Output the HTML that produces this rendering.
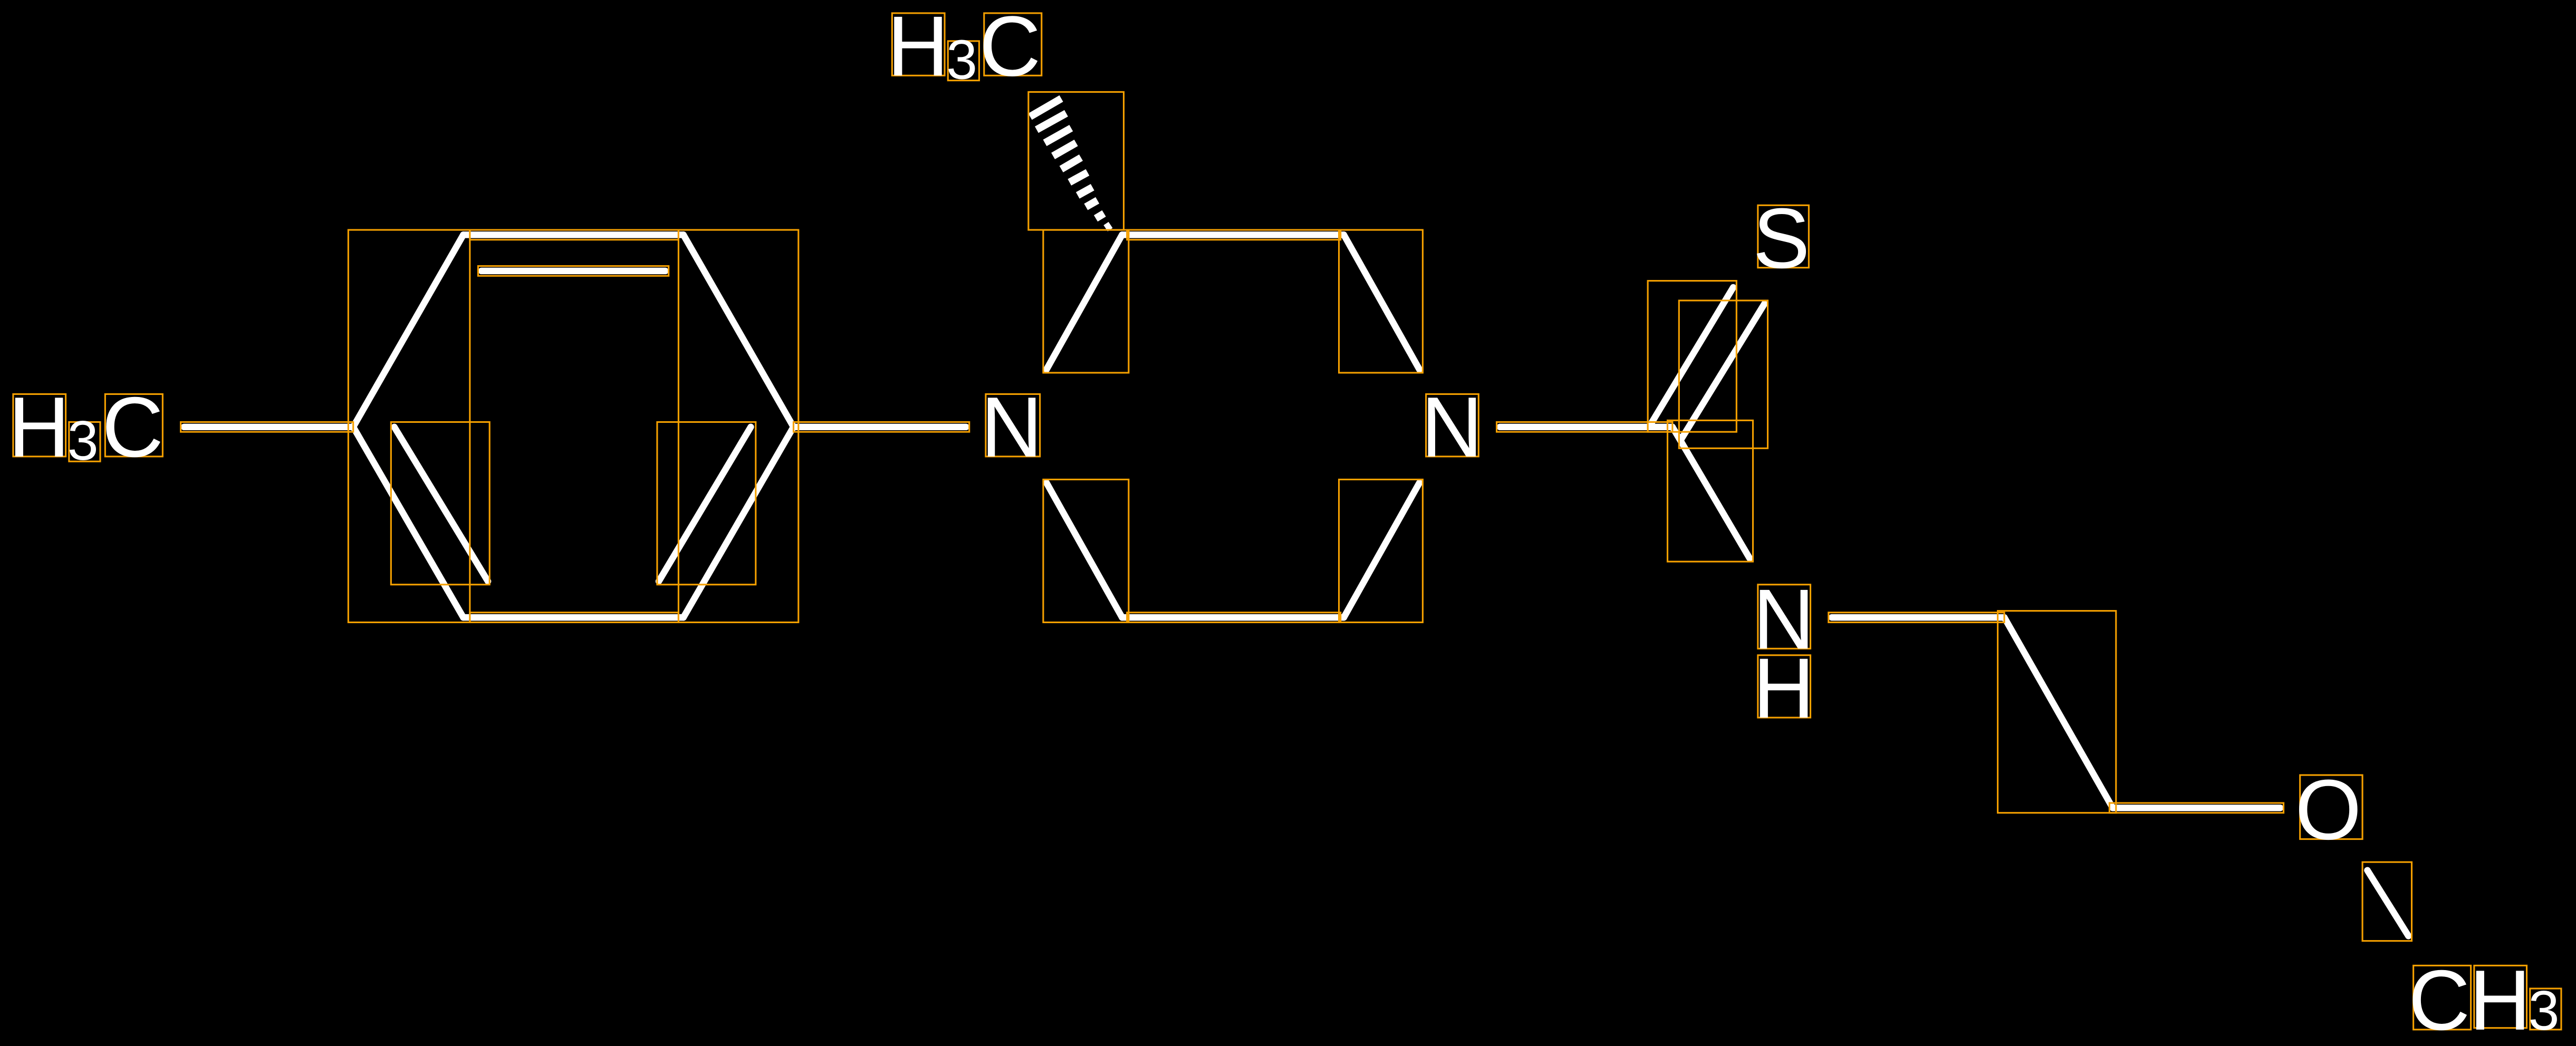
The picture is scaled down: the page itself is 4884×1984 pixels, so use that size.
<!DOCTYPE html>
<html><head><meta charset="utf-8"><style>
html,body{margin:0;padding:0;background:#000;width:4884px;height:1984px;overflow:hidden}
svg{display:block}
text{font-family:"Liberation Sans",sans-serif;fill:#fff}
</style></head><body>
<svg width="4884" height="1984" viewBox="0 0 1568 637" preserveAspectRatio="none" xmlns="http://www.w3.org/2000/svg">
<rect width="1568" height="637" fill="#000"/>
<g stroke="#fff" stroke-width="4" stroke-linecap="round">
<line x1="112" y1="260" x2="215" y2="260"/>
<line x1="282" y1="143" x2="416" y2="143"/>
<line x1="416" y1="143" x2="483" y2="260"/>
<line x1="483" y1="260" x2="416" y2="376"/>
<line x1="416" y1="376" x2="282" y2="376"/>
<line x1="282" y1="376" x2="215" y2="260"/>
<line x1="215" y1="260" x2="282" y2="143"/>
<line x1="293" y1="165" x2="405" y2="165"/>
<line x1="240" y1="260" x2="297" y2="354"/>
<line x1="457" y1="260" x2="401" y2="354"/>
<line x1="483" y1="260" x2="588" y2="260"/>
<line x1="683" y1="143" x2="818" y2="143"/>
<line x1="683" y1="143" x2="637" y2="225"/>
<line x1="818" y1="143" x2="864" y2="225"/>
<line x1="637" y1="294" x2="683" y2="376"/>
<line x1="864" y1="294" x2="818" y2="376"/>
<line x1="683" y1="376" x2="818" y2="376"/>
<line x1="913" y1="260" x2="1018" y2="260"/>
<line x1="1005" y1="258" x2="1055" y2="175"/>
<line x1="1023" y1="268" x2="1074" y2="185"/>
<line x1="1018" y1="260" x2="1065" y2="340"/>
<line x1="1115" y1="376" x2="1220" y2="376"/>
<line x1="1220" y1="376" x2="1286" y2="492"/>
<line x1="1286" y1="492" x2="1388" y2="492"/>
<line x1="1441" y1="530" x2="1466" y2="570"/>
</g>
<g stroke="#fff" stroke-width="4.5">
<line x1="627" y1="71" x2="646" y2="60"/>
<line x1="631" y1="79" x2="649" y2="69"/>
<line x1="636" y1="87" x2="652" y2="78"/>
<line x1="641" y1="95" x2="655" y2="87"/>
<line x1="646" y1="103" x2="658" y2="96"/>
<line x1="651" y1="111" x2="662" y2="105"/>
<line x1="656" y1="119" x2="665" y2="114"/>
<line x1="661" y1="126" x2="668" y2="122"/>
<line x1="667" y1="133" x2="672" y2="130"/>
<line x1="673" y1="139" x2="676" y2="137"/>
</g>
<g fill="none" stroke="#f5a000" stroke-width="1">
<rect x="212" y="140" width="74" height="239"/>
<rect x="413" y="140" width="73" height="239"/>
<rect x="286" y="140" width="127" height="6"/>
<rect x="286" y="373" width="127" height="6"/>
<rect x="291" y="162" width="116" height="6"/>
<rect x="238" y="257" width="60" height="99"/>
<rect x="400" y="257" width="60" height="99"/>
<rect x="110" y="257" width="105" height="6"/>
<rect x="483" y="257" width="107" height="6"/>
<rect x="626" y="56" width="58" height="84"/>
<rect x="635" y="140" width="52" height="87"/>
<rect x="815" y="140" width="51" height="87"/>
<rect x="635" y="292" width="52" height="87"/>
<rect x="815" y="292" width="51" height="87"/>
<rect x="686" y="140" width="130" height="6"/>
<rect x="686" y="373" width="130" height="6"/>
<rect x="911" y="257" width="107" height="6"/>
<rect x="1003" y="171" width="54" height="92"/>
<rect x="1022" y="183" width="54" height="90"/>
<rect x="1015" y="256" width="52" height="86"/>
<rect x="1113" y="373" width="107" height="6"/>
<rect x="1216" y="372" width="72" height="123"/>
<rect x="1284" y="489" width="106" height="6"/>
<rect x="1438" y="525" width="30" height="48"/>
<rect x="8" y="240" width="32" height="38"/>
<rect x="42" y="257" width="19" height="24"/>
<rect x="64" y="240" width="35" height="38"/>
<rect x="600" y="240" width="33" height="38"/>
<rect x="543" y="8" width="32" height="38"/>
<rect x="577" y="25" width="19" height="24"/>
<rect x="599" y="8" width="35" height="38"/>
<rect x="868" y="240" width="32" height="38"/>
<rect x="1070" y="125" width="31" height="38"/>
<rect x="1070" y="356" width="32" height="39"/>
<rect x="1070" y="399" width="32" height="38"/>
<rect x="1400" y="472" width="38" height="39"/>
<rect x="1469" y="588" width="35" height="39"/>
<rect x="1506" y="588" width="32" height="38"/>
<rect x="1540" y="602" width="19" height="25"/>
</g>
<g font-size="52">
<text x="5" y="278">H</text><text x="41" y="280" font-size="34">3</text><text x="62" y="278">C</text>
<text x="597" y="278">N</text>
<text x="540" y="46">H</text><text x="576" y="48" font-size="34">3</text><text x="596" y="46">C</text>
<text x="865" y="278">N</text>
<text x="1067" y="163">S</text>
<text x="1067" y="395">N</text>
<text x="1067" y="437">H</text>
<text x="1397" y="511">O</text>
<text x="1466" y="627">C</text><text x="1503" y="627">H</text><text x="1539" y="627" font-size="34">3</text>
</g>
</svg>
</body></html>
